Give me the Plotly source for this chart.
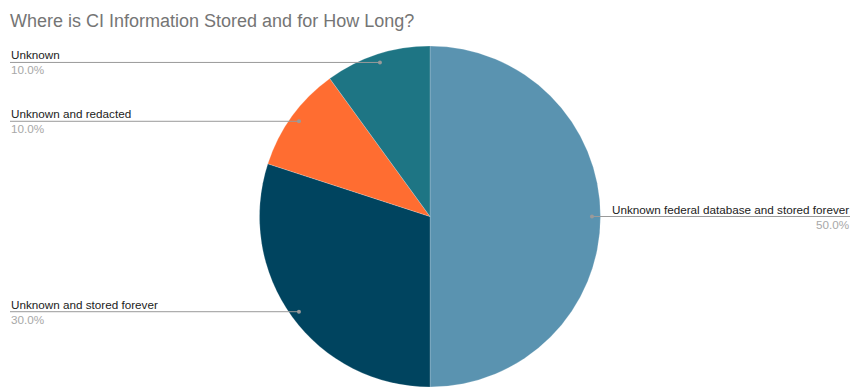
import math
import plotly.graph_objects as go

# ---- data ----
title_text = "Where is CI Information Stored and for How Long?"
categories = [
    "Unknown federal database and stored forever",
    "Unknown and stored forever",
    "Unknown and redacted",
    "Unknown",
]
values = [50, 30, 10, 10]
colors = ["#5a93b0", "#00445f", "#ff6d31", "#1e7584"]

# ---- layout geometry (pixels) ----
W, H = 853, 387
cx, top = 430, 46
r = (H - top) / 2.0
cy = top + r
label_left_x = 10
label_right_x = 850
line_color = "#9a9a9a"
label_font = "Liberation Sans, Arial"
label_size = 11.7

def px(x):
    return x / W

def py(y):
    return 1 - y / H

fig = go.Figure()
fig.add_trace(go.Pie(
    values=values,
    labels=categories,
    sort=False,
    direction="clockwise",
    rotation=0,
    marker=dict(colors=colors, line=dict(color="white", width=0.2)),
    textinfo="none",
    hoverinfo="label+percent",
    showlegend=False,
    domain=dict(x=[(cx - r) / W, (cx + r) / W], y=[0, (H - top) / H]),
))

total = float(sum(values))
cum = 0.0
shapes = []
annotations = []
for name, v in zip(categories, values):
    theta = 2 * math.pi * (cum + v / 2.0) / total
    cum += v
    dx = math.sin(theta)
    dy = -math.cos(theta)
    dot_x = cx + 0.95 * r * dx
    dot_y = cy + 0.95 * r * dy
    left = dx < 0
    end_x = label_left_x if left else label_right_x
    shapes.append(dict(type="line", xref="paper", yref="paper",
                       x0=px(dot_x), y0=py(dot_y), x1=px(end_x), y1=py(dot_y),
                       line=dict(color=line_color, width=1), layer="above"))
    shapes.append(dict(type="circle", xref="paper", yref="paper",
                       x0=px(dot_x - 2), y0=py(dot_y - 2), x1=px(dot_x + 2), y1=py(dot_y + 2),
                       fillcolor=line_color, line=dict(width=0), layer="above"))
    anchor = "left" if left else "right"
    annotations.append(dict(xref="paper", yref="paper", x=px(end_x), y=py(dot_y),
                            text=name, showarrow=False, xanchor=anchor, yanchor="bottom",
                            align=anchor, borderpad=0, yshift=0,
                            font=dict(family=label_font, size=label_size, color="#222222")))
    annotations.append(dict(xref="paper", yref="paper", x=px(end_x), y=py(dot_y),
                            text=f"{100 * v / total:.1f}%", showarrow=False, xanchor=anchor,
                            yanchor="top", align=anchor, borderpad=0, yshift=0,
                            font=dict(family=label_font, size=label_size, color="#a8a8a8")))

fig.update_layout(
    width=W, height=H,
    margin=dict(l=0, r=0, t=0, b=0),
    paper_bgcolor="white",
    plot_bgcolor="white",
    title=dict(text=title_text, x=10 / W, xanchor="left", xref="container",
               y=1 - 20.5 / H, yanchor="middle", yref="container",
               font=dict(family="Liberation Sans, Arial", size=18, color="#757575")),
    shapes=shapes,
    annotations=annotations,
)

fig.write_html("out.html")
